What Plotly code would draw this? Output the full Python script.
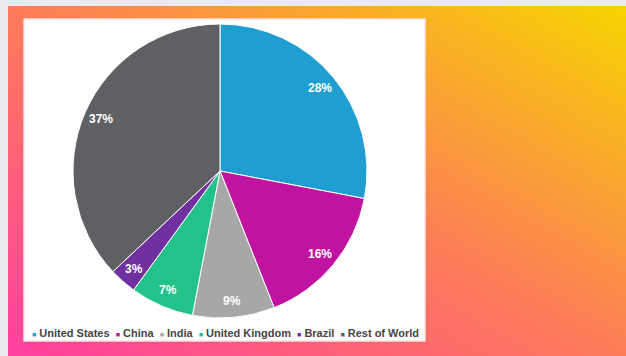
import math
import plotly.graph_objects as go

# Share of total, by country
countries = ["United States", "China", "India", "United Kingdom", "Brazil", "Rest of World"]
shares = [28, 16, 9, 7, 3, 37]
colors = ["#1f9fd1", "#c0139f", "#a7a7a7", "#22c28a", "#7030a0", "#5f6064"]

W, H = 626, 356

fig = go.Figure()

# Diagonal pink -> orange -> yellow backdrop (pixel-unit axes, y up)
fig.add_trace(go.Heatmap(
    x=[8, W], y=[0, H - 6],
    z=[[0.0, 0.5], [0.5, 1.0]],
    zmin=0, zmax=1, zsmooth="best",
    colorscale=[[0.0, "#ff3fa0"], [0.5, "#fd7c58"], [0.75, "#f9a72e"], [1.0, "#f8d400"]],
    showscale=False, hoverinfo="skip",
    xaxis="x", yaxis="y",
))

# White card behind the chart
px0, px1, py0, py1 = 24, 425, 19, 341
fig.add_trace(go.Scatter(
    x=[px0, px1, px1, px0, px0],
    y=[H - py0, H - py0, H - py1, H - py1, H - py0],
    mode="lines", fill="toself", fillcolor="#ffffff",
    line=dict(color="#fbe3df", width=1.5),
    hoverinfo="skip", showlegend=False,
))

# Pie
cx, cy, r = 220, 171, 147
fig.add_trace(go.Pie(
    labels=countries, values=shares,
    marker=dict(colors=colors, line=dict(color="#ffffff", width=1)),
    sort=False, direction="clockwise", rotation=0,
    textinfo="none",
    domain=dict(x=[(cx - r) / W, (cx + r) / W], y=[(H - cy - r) / H, (H - cy + r) / H]),
    showlegend=False, hoverinfo="label+percent",
))

# Percentage labels near the rim, on each slice's bisector
label_font = dict(family="Liberation Sans, Arial, sans-serif", size=12, color="#ffffff", weight="bold")
annotations = []
total = sum(shares)
cum = 0
for v in shares:
    mid = (cum + v / 2) / total * 2 * math.pi
    cum += v
    lx = cx + 0.885 * r * math.sin(mid)
    ly = cy - 0.885 * r * math.cos(mid)
    annotations.append(dict(
        text=f"{round(100 * v / total)}%", x=lx / W, y=(H - ly) / H,
        xref="paper", yref="paper", xanchor="center", yanchor="middle",
        showarrow=False, font=label_font,
    ))

# Compact legend row under the pie
parts = []
for name, col in zip(countries, colors):
    parts.append(f"<span style='color:{col};font-size:7px'>■</span> {name}")
legend_text = "  ".join(parts)
annotations.append(dict(
    text=legend_text, xref="paper", yref="paper",
    x=(px0 + px1) / 2 / W + 1 / W, y=(H - 333) / H,
    xanchor="center", yanchor="middle", showarrow=False,
    font=dict(family="Liberation Sans, Arial, sans-serif", size=11, color="#454545", weight="bold"),
))

fig.update_layout(
    width=W, height=H,
    margin=dict(l=0, r=0, t=0, b=0),
    paper_bgcolor="#ebeaf1",
    plot_bgcolor="rgba(0,0,0,0)",
    showlegend=False,
    xaxis=dict(domain=[8 / W, 1], range=[8, W], visible=False, fixedrange=True),
    yaxis=dict(domain=[0, (H - 6) / H], range=[0, H - 6], visible=False, fixedrange=True),
    annotations=annotations,
)

fig.write_html("out.html")
